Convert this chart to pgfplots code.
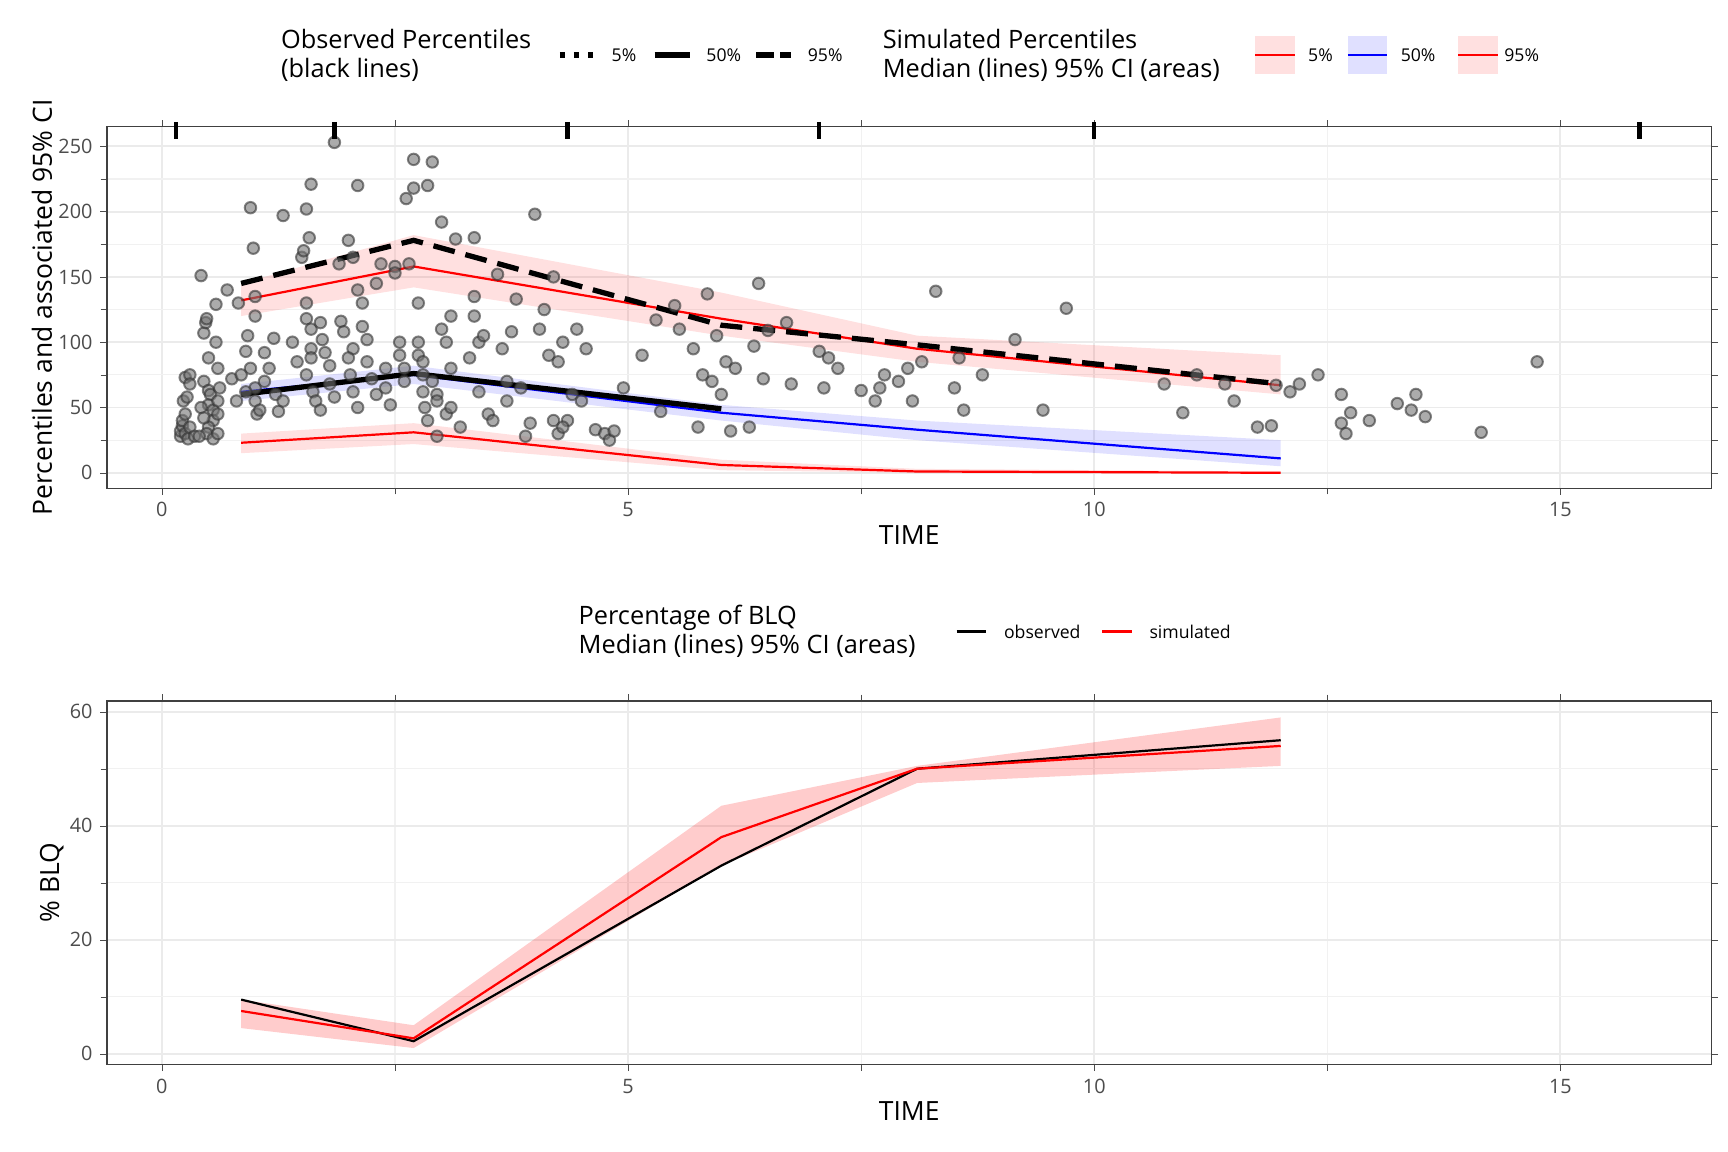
\documentclass[border=0pt]{standalone}
\usepackage{pgfplots}
\pgfplotsset{compat=1.18}
\usepackage{fontspec}
\setmainfont{Open Sans}
\definecolor{pinkf}{RGB}{255,0,0}
\definecolor{gridc}{RGB}{235,235,235}
\pgfplotsset{
  base/.style={scale only axis, width=728pt, xmin=-0.59, xmax=16.62,
    axis line style={draw=black!75, line width=0.6pt},
    tick style={draw=black!70}, tick align=outside, major tick length=3pt,
    xtick={0,5,10,15}, minor x tick num=1, minor y tick num=1,
    grid=both, major grid style={draw=gridc, line width=0.9pt}, minor grid style={draw=gridc!70, line width=0.5pt},
    tick label style={font=\fontsize{9}{10}\selectfont, text=black!70},
    /pgf/number format/assume math mode=true,
    label style={font=\fontsize{12}{13}\selectfont},
    xlabel={TIME}, xlabel style={yshift=3pt},
    axis on top=false, clip=true}
}
\begin{document}
\begin{tikzpicture}
\path (0,0) rectangle (784pt,522.5pt);
% ---------- top axis
\begin{axis}[base, at={(48.5pt,301pt)}, anchor=south west, height=164pt,
  ymin=-11.8, ymax=265, ytick={0,50,100,150,200,250}, minor ytick={25,75,125,175,225},
  minor xtick={2.5,7.5,12.5}, ylabel={Percentiles and associated 95\% CI}, ylabel style={yshift=-4pt}]
% bands
\addplot[fill=red, fill opacity=0.12, draw=none] coordinates {(0.85,145)(2.7,182)(6,138)(8.1,105)(12,90)(12,60)(8.1,85)(6,105)(2.7,142)(0.85,120)} --cycle;
\addplot[fill=blue, fill opacity=0.12, draw=none] coordinates {(0.85,68)(2.7,82)(6,52)(8.1,40)(12,25)(12,5)(8.1,25)(6,40)(2.7,68)(0.85,55)} --cycle;
\addplot[fill=red, fill opacity=0.12, draw=none] coordinates {(0.85,30)(2.7,38)(6,10)(8.1,3)(12,1)(12,0)(8.1,0)(6,2)(2.7,22)(0.85,15)} --cycle;
% scatter
\addplot[only marks, mark=*, mark size=2.6pt, mark options={fill=black!55, draw=black!80, line width=0.9pt, opacity=0.6}] coordinates {
(0.2,28)(0.2,32)(0.22,36)(0.22,40)(0.25,30)(0.25,45)(0.23,55)(0.27,58)(0.25,73)(0.3,75)(0.3,68)(0.28,26)(0.3,35)(0.35,28)
(0.42,151)(0.45,107)(0.47,115)(0.48,118)(0.5,88)(0.45,70)(0.5,63)(0.52,60)(0.5,52)(0.55,48)(0.55,40)(0.5,35)(0.48,30)(0.55,26)(0.6,30)(0.6,45)(0.6,55)(0.62,65)(0.6,80)(0.58,100)(0.42,50)(0.45,42)(0.4,28)
(0.58,129)(0.7,140)(0.75,72)(0.8,55)(0.82,130)(0.9,93)(0.92,105)(0.95,203)(0.98,172)(1.0,135)(1.0,120)(0.95,80)(1.0,65)(1.0,55)(1.02,45)(1.05,48)(0.9,62)(0.85,75)(1.1,70)(1.15,80)(1.1,92)(1.2,103)(1.22,60)(1.25,47)(1.3,55)
(1.3,197)(1.4,100)(1.45,85)(1.5,165)(1.52,170)(1.55,202)(1.58,180)(1.6,221)(1.55,130)(1.55,118)(1.6,110)(1.6,95)(1.6,88)(1.55,75)(1.62,62)(1.65,55)(1.7,48)(1.7,115)(1.72,102)(1.75,92)(1.8,82)(1.8,68)(1.85,58)
(1.85,253)(1.9,160)(1.92,116)(1.95,108)(2.0,178)(2.05,165)(2.05,95)(2.0,88)(2.02,75)(2.05,62)(2.1,50)(2.1,220)(2.1,140)(2.15,130)(2.15,112)(2.2,102)(2.2,85)(2.25,72)(2.3,60)(2.3,145)(2.35,160)(2.4,80)(2.4,65)(2.45,52)(2.5,158)(2.5,153)
(2.55,100)(2.55,90)(2.6,80)(2.6,70)(2.62,210)(2.65,160)(2.7,218)(2.7,240)(2.75,130)(2.75,100)(2.75,90)(2.8,85)(2.8,75)(2.8,62)(2.82,50)(2.85,40)(2.85,220)(2.9,238)(2.9,70)(2.95,60)(2.95,55)(2.95,28)(3.0,192)(3.0,110)(3.05,100)(3.05,45)(3.1,120)(3.1,80)(3.1,50)(3.15,179)(3.2,35)
(3.3,88)(3.35,135)(3.35,120)(3.4,100)(3.35,180)(3.4,62)(3.45,105)(3.5,45)(3.55,40)(3.6,152)(3.65,95)(3.7,70)(3.7,55)(3.75,108)(3.8,133)(3.85,65)(3.9,28)(3.95,38)(4.0,198)(4.05,110)(4.1,125)(4.15,90)(4.2,150)(4.25,85)(4.3,100)(4.35,40)(4.4,60)(4.45,110)(4.5,55)(4.55,95)
(4.2,40)(4.25,30)(4.3,35)(4.65,33)(4.75,30)(4.8,25)(4.85,32)(4.95,65)(5.15,90)(5.3,117)(5.35,47)(5.5,128)(5.55,110)(5.7,95)(5.75,35)(5.8,75)(5.85,137)(5.9,70)(5.95,105)(6.0,60)(6.05,85)(6.15,80)(6.1,32)(6.3,35)(6.35,97)(6.4,145)(6.45,72)(6.5,109)(6.7,115)(6.75,68)
(7.05,93)(7.15,88)(7.1,65)(7.25,80)(7.5,63)(7.65,55)(7.7,65)(7.75,75)(7.9,70)(8.0,80)(8.05,55)(8.15,85)(8.3,139)(8.5,65)(8.55,88)(8.6,48)(8.8,75)(9.15,102)(9.45,48)(9.7,126)
(10.75,68)(10.95,46)(11.1,75)(11.4,68)(11.5,55)(11.75,35)(11.9,36)(11.95,67)(12.1,62)(12.2,68)(12.4,75)(12.65,60)(12.65,38)(12.7,30)(12.75,46)(12.95,40)(13.25,53)(13.4,48)(13.45,60)(13.55,43)(14.15,31)(14.75,85)
};
% sim medians
\addplot[red, line width=1pt] coordinates {(0.85,132)(2.7,158)(6,118)(8.1,95)(12,67)};
\addplot[blue, line width=1pt] coordinates {(0.85,62)(2.7,75)(6,46)(8.1,33)(12,11)};
\addplot[red, line width=1pt] coordinates {(0.85,23)(2.7,31)(6,6)(8.1,1)(12,0)};
% observed
\addplot[black, line width=2.4pt, dash pattern=on 10pt off 5pt] coordinates {(0.85,145)(2.7,178)(6,113)(8.1,98)(12,68)};
\addplot[black, line width=2.4pt] coordinates {(0.85,60)(2.7,76)(6,49)};
% rug
\addplot[only marks, mark=|, mark size=4pt, mark options={line width=2pt}] coordinates {(0.15,262)(1.85,262)(4.35,262)(7.05,262)(10.0,262)(15.85,262)};
\end{axis}
% ---------- bottom axis
\begin{axis}[base, at={(48.5pt,39.5pt)}, anchor=south west, height=165pt,
  ymin=-1.9, ymax=61.9, ytick={0,20,40,60}, minor ytick={10,30,50},
  minor xtick={2.5,7.5,12.5}, ylabel={\% BLQ}, ylabel style={yshift=-4pt}]
\addplot[fill=red, fill opacity=0.2, draw=none] coordinates {(0.85,9.5)(2.7,5)(6,43.5)(8.1,50.5)(12,59)(12,50.5)(8.1,47.5)(6,33)(2.7,1)(0.85,4.5)} --cycle;
\addplot[black, line width=1pt] coordinates {(0.85,9.5)(2.7,2.2)(6,33)(8.1,50)(12,55)};
\addplot[red, line width=1pt] coordinates {(0.85,7.5)(2.7,2.7)(6,38)(8.1,50)(12,54)};
\end{axis}
% ---------- legends
\def\big{\fontsize{11.5}{13}\selectfont}
\def\sm{\fontsize{8}{9}\selectfont}
\node[anchor=west, align=left, font=\big] at (124pt,497.5pt) {Observed Percentiles\\(black lines)};
\draw[line width=2.4pt, dash pattern=on 2.4pt off 4pt] (254pt,497.5pt) -- (270pt,497.5pt);
\node[anchor=west, font=\sm] at (274pt,497.5pt) {5\%};
\draw[line width=2.4pt] (297pt,497.5pt) -- (313pt,497.5pt);
\node[anchor=west, font=\sm] at (317pt,497.5pt) {50\%};
\draw[line width=2.4pt, dash pattern=on 8pt off 3pt] (343pt,497.5pt) -- (359pt,497.5pt);
\node[anchor=west, font=\sm] at (363pt,497.5pt) {95\%};
\node[anchor=west, align=left, font=\big] at (397pt,497.5pt) {Simulated Percentiles\\Median (lines) 95\% CI (areas)};
\fill[red, opacity=0.12] (569.5pt,489pt) rectangle (587.5pt,506pt);
\draw[red, line width=1pt] (569.5pt,497.5pt) -- (587.5pt,497.5pt);
\node[anchor=west, font=\sm] at (590pt,497.5pt) {5\%};
\fill[blue, opacity=0.12] (611.5pt,489pt) rectangle (629.5pt,506pt);
\draw[blue, line width=1pt] (611.5pt,497.5pt) -- (629.5pt,497.5pt);
\node[anchor=west, font=\sm] at (632pt,497.5pt) {50\%};
\fill[red, opacity=0.12] (661.5pt,489pt) rectangle (679.5pt,506pt);
\draw[red, line width=1pt] (661.5pt,497.5pt) -- (679.5pt,497.5pt);
\node[anchor=west, font=\sm] at (679pt,497.5pt) {95\%};
\node[anchor=west, align=left, font=\big] at (259pt,236pt) {Percentage of BLQ\\Median (lines) 95\% CI (areas)};
\draw[black, line width=1pt] (434pt,236pt) -- (447.5pt,236pt);
\node[anchor=west, font=\sm] at (452pt,236pt) {observed};
\draw[red, line width=1pt] (500pt,236pt) -- (513.5pt,236pt);
\node[anchor=west, font=\sm] at (518pt,236pt) {simulated};
\end{tikzpicture}
\end{document}
